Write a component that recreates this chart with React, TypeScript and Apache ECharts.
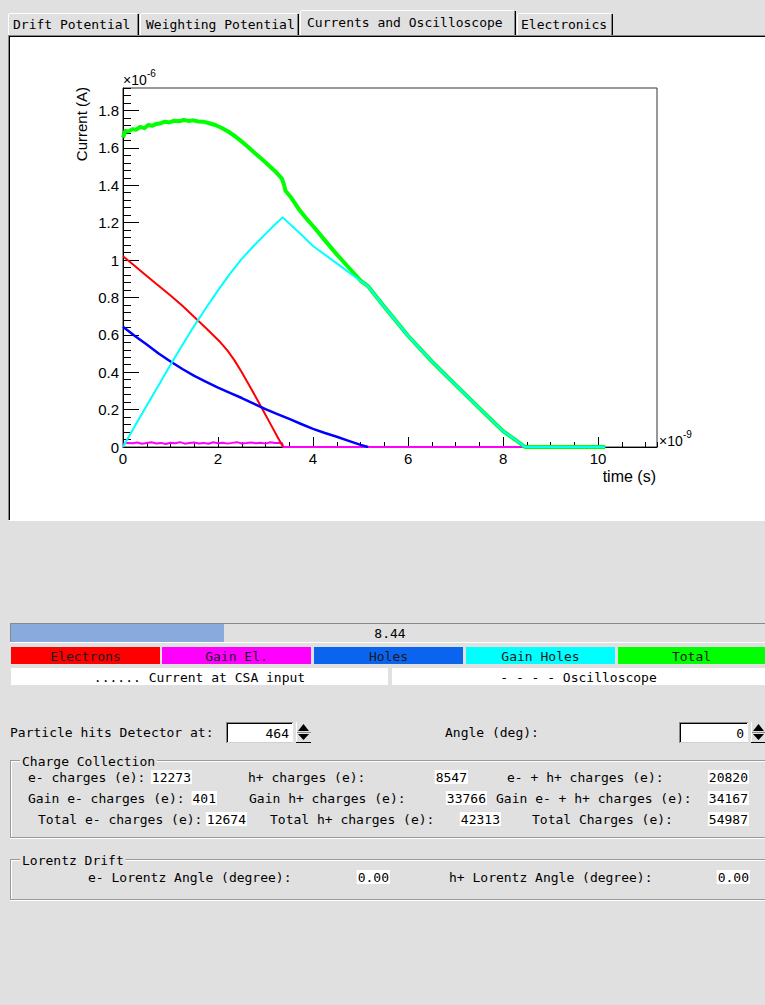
import React, { useEffect, useRef } from 'react';
import * as echarts from 'echarts';

// ---------- plot data (x in 1e-9 s, y in 1e-6 A) ----------
const X_MAX = 11.24;
const Y_MAX = 1.92;
const xTickLabels = ['0', '2', '4', '6', '8', '10'];
const yTickLabels = ['0', '0.2', '0.4', '0.6', '0.8', '1', '1.2', '1.4', '1.6', '1.8'];

const electronsT = [0, 0.25, 0.5, 0.75, 1.0, 1.25, 1.5, 1.75, 1.9, 2.05, 2.2, 2.35, 2.5, 2.65, 2.8, 2.95, 3.1, 3.25, 3.37];
const electronsV = [1.02, 0.968, 0.915, 0.862, 0.81, 0.755, 0.695, 0.635, 0.598, 0.56, 0.515, 0.462, 0.4, 0.333, 0.265, 0.195, 0.125, 0.055, 0];

const gainElT = [0, 0.1, 0.2, 0.3, 0.4, 0.5, 0.6, 0.7, 0.8, 0.9, 1.0, 1.1, 1.2, 1.3, 1.4, 1.5, 1.6, 1.7, 1.8, 1.9, 2.0, 2.1, 2.2, 2.3, 2.4, 2.5, 2.6, 2.7, 2.8, 2.9, 3.0, 3.1, 3.2, 3.3, 3.35, 3.37, 10.15];
const gainElV = [0.018, 0.022, 0.02, 0.024, 0.017, 0.021, 0.025, 0.019, 0.022, 0.016, 0.023, 0.02, 0.026, 0.018, 0.021, 0.024, 0.019, 0.022, 0.017, 0.025, 0.02, 0.023, 0.018, 0.022, 0.026, 0.019, 0.021, 0.024, 0.02, 0.023, 0.018, 0.025, 0.021, 0.022, 0.02, 0, 0];

const holesT = [0, 0.25, 0.5, 0.75, 1.0, 1.25, 1.5, 1.75, 2.0, 2.25, 2.5, 2.75, 3.0, 3.25, 3.5, 3.75, 4.0, 4.25, 4.5, 4.75, 5.0, 5.16];
const holesV = [0.643, 0.594, 0.548, 0.5, 0.457, 0.417, 0.38, 0.348, 0.318, 0.29, 0.262, 0.232, 0.203, 0.176, 0.15, 0.123, 0.097, 0.075, 0.055, 0.033, 0.011, 0];

const gainHolesT = [0, 0.25, 0.5, 0.75, 1.0, 1.25, 1.5, 1.75, 2.0, 2.25, 2.5, 2.75, 3.0, 3.2, 3.36, 3.7, 4.0, 4.5, 5.0, 5.15, 5.5, 6.0, 6.5, 7.0, 7.5, 8.0, 8.25, 8.46, 10.15];
const gainHolesV = [0, 0.112, 0.222, 0.33, 0.44, 0.545, 0.648, 0.745, 0.838, 0.926, 1.006, 1.075, 1.14, 1.19, 1.228, 1.148, 1.075, 0.982, 0.888, 0.862, 0.75, 0.595, 0.458, 0.332, 0.208, 0.085, 0.04, 0, 0];

const totalT = [0, 0.05, 0.12, 0.2, 0.28, 0.36, 0.45, 0.53, 0.62, 0.7, 0.8, 0.88, 0.98, 1.08, 1.18, 1.28, 1.38, 1.48, 1.58, 1.68, 1.8, 1.94, 2.08, 2.22, 2.36, 2.5, 2.64, 2.78, 2.92, 3.06, 3.2, 3.34, 3.38, 3.42, 3.55, 3.69, 3.85, 4.04, 4.25, 4.5, 4.75, 5.0, 5.15, 5.5, 6.0, 6.5, 7.0, 7.5, 8.0, 8.25, 8.46, 10.15];
const totalV = [1.655, 1.69, 1.688, 1.7, 1.697, 1.712, 1.705, 1.722, 1.718, 1.728, 1.732, 1.74, 1.736, 1.745, 1.742, 1.749, 1.744, 1.747, 1.741, 1.74, 1.733, 1.722, 1.706, 1.686, 1.662, 1.633, 1.603, 1.571, 1.54, 1.508, 1.475, 1.437, 1.41, 1.37, 1.33, 1.276, 1.225, 1.17, 1.105, 1.03, 0.96, 0.89, 0.862, 0.75, 0.595, 0.458, 0.332, 0.208, 0.085, 0.04, 0, 0];

// ---------- GUI texts ----------
const tabLabels = ['Drift Potential', 'Weighting Potential', 'Currents and Oscilloscope', 'Electronics'];
const legendLabels = ['Electrons', 'Gain El.', 'Holes', 'Gain Holes', 'Total'];
const legendColors = ['#ff0000', '#ff00ff', '#0a64ee', '#00ffff', '#00ff00'];
const progressValue = '8.44';
const particleHit = '464';
const angleDeg = '0';
const chargeRows = [
  [['e- charges (e):', 28], ['12273', 192], ['h+ charges (e):', 248], ['8547', 468], ['e- + h+ charges (e):', 507], ['20820', 749]],
  [['Gain e- charges (e):', 28], ['401', 217], ['Gain h+ charges (e):', 249], ['33766', 487], ['Gain e- + h+ charges (e):', 496], ['34167', 749]],
  [['Total e- charges (e):', 38], ['12674', 247], ['Total h+ charges (e):', 270], ['42313', 501], ['Total Charges (e):', 532], ['54987', 749]],
];
const lorentzRow = [['e- Lorentz Angle (degree):', 88], ['0.00', 390], ['h+ Lorentz Angle (degree):', 449], ['0.00', 750]];

const BG = '#e0e0e0';
const MONO = '13px "DejaVu Sans Mono", monospace';
const SANS = '"Liberation Sans", Arial, sans-serif';

function hl(x1: number, x2: number, y: number, c: string) {
  return { type: 'line', silent: true, shape: { x1, y1: y + 0.5, x2, y2: y + 0.5 }, style: { stroke: c, lineWidth: 1 } };
}
function vl(x: number, y1: number, y2: number, c: string) {
  return { type: 'line', silent: true, shape: { x1: x + 0.5, y1, x2: x + 0.5, y2 }, style: { stroke: c, lineWidth: 1 } };
}
function rect(x: number, y: number, w: number, h: number, fill: string) {
  return { type: 'rect', silent: true, shape: { x, y, width: w, height: h }, style: { fill } };
}
function txt(t: string, x: number, y: number, align = 'left', extra: any = {}) {
  return { type: 'text', silent: true, x, y, style: { text: t, font: MONO, fill: '#000', align, verticalAlign: 'middle', ...extra } };
}

function buildGui() {
  const g: any[] = [];
  // tabs
  const tabs = [
    { x0: 8, x1: 139, tx: 13, sel: false },
    { x0: 140, x1: 299, tx: 146, sel: false },
    { x0: 300, x1: 516, tx: 307, sel: true },
    { x0: 517, x1: 613, tx: 521, sel: false },
  ];
  tabs.forEach((t, i) => {
    const top = t.sel ? 10 : 13;
    g.push(hl(t.x0 + 1, t.x1 - 2, top, '#ffffff'));
    g.push(vl(t.x0, top + 1, 36, '#ffffff'));
    g.push(vl(t.x1 - 2, top + 1, 36, '#888888'));
    g.push(vl(t.x1 - 1, top + 1, 36, '#000000'));
    g.push(txt(tabLabels[i], t.tx, t.sel ? 22 : 24));
  });
  // canvas sunken border
  g.push(hl(8, 765, 35, '#888888'));
  g.push(hl(9, 765, 36, '#000000'));
  g.push(vl(8, 35, 520, '#888888'));
  g.push(vl(9, 36, 520, '#000000'));
  g.push(hl(9, 765, 520, '#ffffff'));

  // progress bar
  g.push(hl(10, 765, 623, '#888888'));
  g.push(vl(10, 623, 642, '#888888'));
  g.push(hl(10, 765, 642, '#ffffff'));
  g.push(rect(11, 624, 213, 18, '#88aadd'));
  g.push(txt(progressValue, 390, 633.5, 'center'));

  // legend colour buttons
  const bx = [11, 162, 314, 466, 618];
  const bw = [149, 149, 149, 149, 147];
  legendLabels.forEach((l, i) => {
    g.push(rect(bx[i], 647, bw[i], 17, legendColors[i]));
    g.push(txt(l, bx[i] + bw[i] / 2, 656, 'center', { fill: '#1a1a1a' }));
  });
  // line style rows
  g.push(rect(11, 668, 377, 17, '#ffffff'));
  g.push(rect(392, 668, 373, 17, '#ffffff'));
  g.push(txt('...... Current at CSA input', 199.5, 677, 'center'));
  g.push(txt('- - - - Oscilloscope', 578.5, 677, 'center'));

  // number entries
  const entry = (x: number, y: number, w: number, h: number, val: string) => {
    g.push(rect(x, y, w, h, '#ffffff'));
    g.push(hl(x, x + w, y, '#888888'));
    g.push(vl(x, y, y + h, '#888888'));
    g.push(hl(x + 1, x + w - 1, y + 1, '#000000'));
    g.push(vl(x + 1, y + 1, y + h - 1, '#000000'));
    g.push(hl(x + 1, x + w, y + h - 1, '#d0d0d0'));
    g.push(txt(val, x + w - 4, y + h / 2 + 0.5, 'right'));
  };
  const spinner = (x: number, y: number) => {
    g.push({ type: 'polygon', silent: true, shape: { points: [[x + 2, y + 9], [x + 13, y + 9], [x + 7.5, y + 2]] }, style: { fill: '#000' } });
    g.push({ type: 'polygon', silent: true, shape: { points: [[x + 2, y + 12], [x + 13, y + 12], [x + 7.5, y + 18]] }, style: { fill: '#000' } });
    g.push(hl(x + 1, x + 15, y + 10, '#888888'));
    g.push(hl(x, x + 15, y + 20, '#000000'));
    g.push(vl(x, y, y + 20, '#ffffff'));
  };
  g.push(txt('Particle hits Detector at:', 10, 732));
  entry(226, 722, 67, 21, particleHit);
  spinner(296, 722);
  g.push(txt('Angle (deg):', 445, 732));
  entry(679, 722, 69, 21, angleDeg);
  spinner(751, 722);

  // group frames
  const group = (x: number, yTop: number, yBot: number, title: string) => {
    g.push(hl(x, 765, yTop, '#999999'));
    g.push(hl(x + 1, 765, yTop + 1, '#ffffff'));
    g.push(vl(x, yTop, yBot, '#999999'));
    g.push(vl(x + 1, yTop + 1, yBot, '#ffffff'));
    g.push(hl(x, 765, yBot, '#999999'));
    g.push(hl(x, 765, yBot + 1, '#ffffff'));
    g.push(txt(title, x + 10, yTop + 1, 'left', { backgroundColor: BG, padding: [0, 2] }));
  };
  group(10, 760, 837, 'Charge Collection');
  const rowY = [777, 798, 819];
  chargeRows.forEach((row, r) => {
    row.forEach(([t, x], i) => {
      if (i % 2 === 0) g.push(txt(t as string, x as number, rowY[r]));
      else g.push(txt(t as string, x as number, rowY[r], 'right', { backgroundColor: '#ffffff', padding: [1, 1, 0, 1] }));
    });
  });
  group(10, 859, 899, 'Lorentz Drift');
  lorentzRow.forEach(([t, x], i) => {
    if (i % 2 === 0) g.push(txt(t as string, x as number, 877));
    else g.push(txt(t as string, x as number, 877, 'right', { backgroundColor: '#ffffff', padding: [1, 1, 0, 1] }));
  });

  // plot titles / exponents
  g.push({ type: 'text', silent: true, x: 81, y: 87, rotation: Math.PI / 2, style: { text: 'Current (A)', font: `15px ${SANS}`, fill: '#000', align: 'right', verticalAlign: 'middle' } });
  g.push({ type: 'text', silent: true, x: 656, y: 476, style: { text: 'time (s)', font: `16px ${SANS}`, fill: '#000', align: 'right', verticalAlign: 'middle' } });
  g.push({ type: 'text', silent: true, x: 123, y: 80, style: { text: '×10', font: `14px ${SANS}`, fill: '#000', align: 'left', verticalAlign: 'middle' } });
  g.push({ type: 'text', silent: true, x: 147, y: 73, style: { text: '-6', font: `10px ${SANS}`, fill: '#000', align: 'left', verticalAlign: 'middle' } });
  g.push({ type: 'text', silent: true, x: 659, y: 441, style: { text: '×10', font: `14px ${SANS}`, fill: '#000', align: 'left', verticalAlign: 'middle' } });
  g.push({ type: 'text', silent: true, x: 683, y: 434, style: { text: '-9', font: `10px ${SANS}`, fill: '#000', align: 'left', verticalAlign: 'middle' } });
  return g;
}

const pairs = (t: number[], v: number[]) => t.map((x, i) => [x, v[i]]);

export default function App() {
  const ref = useRef<HTMLDivElement>(null);
  useEffect(() => {
    if (!ref.current) return;
    const chart = echarts.init(ref.current, undefined, { renderer: 'svg' });
    const labelStyle = { fontSize: 15, fontFamily: SANS, color: '#000' };
    const mkSeries = (name: string, t: number[], v: number[], color: string, width: number) => ({
      name, type: 'line', data: pairs(t, v), showSymbol: false, symbol: 'none', silent: true,
      lineStyle: { color, width, join: 'round' }, xAxisIndex: 0, yAxisIndex: 0, clip: true,
    });
    chart.setOption({
      animation: false,
      grid: { left: 123, top: 88, width: 534, height: 359, show: true, borderColor: '#333', borderWidth: 1, backgroundColor: 'transparent' },
      xAxis: [
        {
          type: 'value', position: 'bottom', min: 0, max: X_MAX, interval: 2,
          axisLine: { show: true, onZero: false, lineStyle: { color: '#000', width: 1 } },
          axisTick: { inside: true, length: 10, lineStyle: { color: '#000' } },
          axisLabel: { ...labelStyle, margin: 4, showMaxLabel: false, formatter: (v: number) => xTickLabels[Math.round(v / 2)] ?? '' },
          splitLine: { show: false },
        },
        {
          type: 'value', position: 'bottom', min: 0, max: X_MAX, interval: 0.5,
          axisLine: { show: false, onZero: false },
          axisTick: { show: true, inside: true, length: 5, lineStyle: { color: '#000' } },
          axisLabel: { show: false }, splitLine: { show: false },
        },
      ],
      yAxis: [
        {
          type: 'value', position: 'left', min: 0, max: Y_MAX, interval: 0.2,
          axisLine: { show: true, onZero: false, lineStyle: { color: '#000', width: 1 } },
          axisTick: { inside: true, length: 16, lineStyle: { color: '#000' } },
          axisLabel: { ...labelStyle, margin: 4, showMaxLabel: false, formatter: (v: number) => yTickLabels[Math.round(v / 0.2)] ?? '' },
          splitLine: { show: false },
        },
        {
          type: 'value', position: 'left', min: 0, max: Y_MAX, interval: 0.04,
          axisLine: { show: false, onZero: false },
          axisTick: { show: true, inside: true, length: 8, lineStyle: { color: '#000' } },
          axisLabel: { show: false }, splitLine: { show: false },
        },
      ],
      series: [
        mkSeries('Gain El.', gainElT, gainElV, '#ff00ff', 2),
        mkSeries('Electrons', electronsT, electronsV, '#ff0000', 2),
        mkSeries('Holes', holesT, holesV, '#0000ff', 2.5),
        mkSeries('Total', totalT, totalV, '#00ff00', 4),
        mkSeries('Gain Holes', gainHolesT, gainHolesV, '#00ffff', 2),
      ],
      graphic: { elements: buildGui() },
    });
    return () => chart.dispose();
  }, []);
  return (
    <div style={{ position: 'absolute', left: 0, top: 0, width: 765, height: 1005, background: BG, overflow: 'hidden' }}>
      <div style={{ position: 'absolute', left: 10, top: 37, width: 755, height: 483, background: '#ffffff' }} />
      <div ref={ref} style={{ position: 'absolute', left: 0, top: 0, width: 765, height: 1005 }} />
    </div>
  );
}
